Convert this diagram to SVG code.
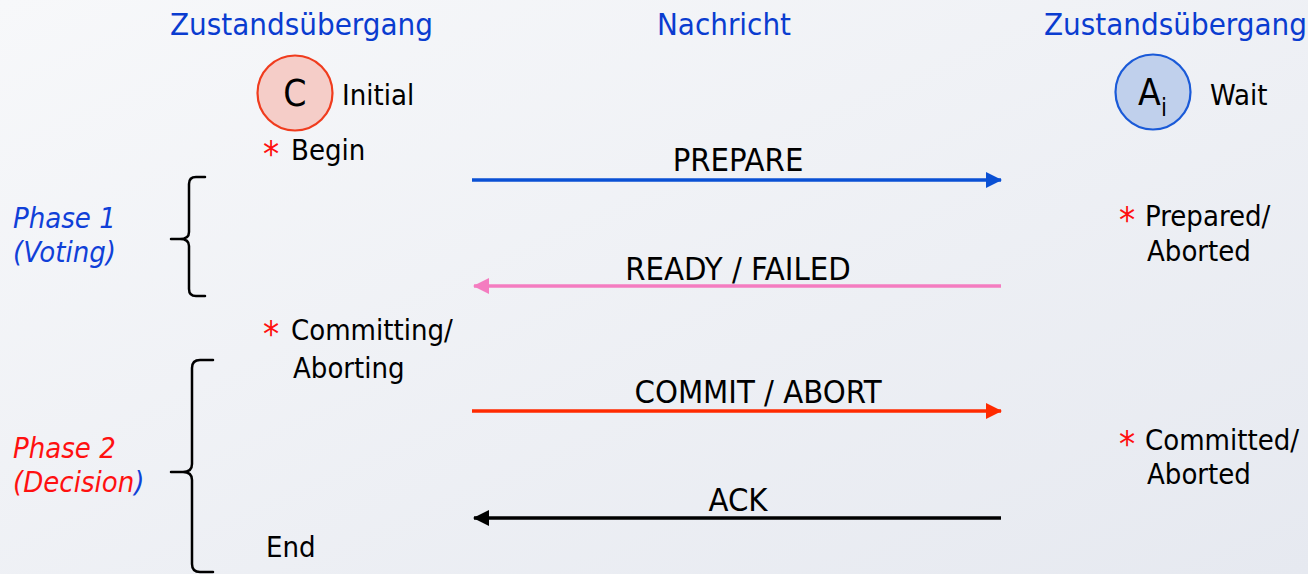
<svg xmlns="http://www.w3.org/2000/svg" width="1308" height="574" viewBox="0 0 1308 574">
  <defs>
    <linearGradient id="bg" x1="0" y1="0" x2="1" y2="1">
      <stop offset="0" stop-color="#f7f8fa"/>
      <stop offset="1" stop-color="#e6e9f0"/>
    </linearGradient>
    <marker id="arrBlue" viewBox="0 0 16 16" refX="15" refY="8" markerWidth="16" markerHeight="16" markerUnits="userSpaceOnUse" orient="auto">
      <path d="M0,0 L16,8 L0,16 Z" fill="#0a50d4"/>
    </marker>
    <marker id="arrPink" viewBox="0 0 16 16" refX="15" refY="8" markerWidth="16" markerHeight="16" markerUnits="userSpaceOnUse" orient="auto">
      <path d="M0,0 L16,8 L0,16 Z" fill="#f47cc0"/>
    </marker>
    <marker id="arrRed" viewBox="0 0 16 16" refX="15" refY="8" markerWidth="16" markerHeight="16" markerUnits="userSpaceOnUse" orient="auto">
      <path d="M0,0 L16,8 L0,16 Z" fill="#ff2a00"/>
    </marker>
    <marker id="arrBlack" viewBox="0 0 16 16" refX="15" refY="8" markerWidth="16" markerHeight="16" markerUnits="userSpaceOnUse" orient="auto">
      <path d="M0,0 L16,8 L0,16 Z" fill="#000"/>
    </marker>
  </defs>
  <style>
    text { font-family: "DejaVu Sans Condensed", "DejaVu Sans", sans-serif; font-stretch: condensed; font-size: 29px; fill: #000; }
    .head { fill: #0a3cd0; font-size: 31px; }
    .phase { font-style: italic; font-size: 29px; }
    .blue { fill: #1040d8; }
    .red { fill: #ff1010; }
    .star { fill: #ff1010; font-size: 36px; }
    .msg { text-anchor: middle; font-size: 32.5px; }
    .brace { fill: none; stroke: #000; stroke-width: 2.5; stroke-linejoin: round; stroke-linecap: round; }
    .arrow { fill: none; stroke-width: 3.5; }
  </style>

  <rect width="1308" height="574" fill="url(#bg)"/>

  <!-- column headings -->
  <g id="headings">
    <text class="head" x="170" y="35">Zustandsübergang</text>
    <text class="head" x="724" y="35" text-anchor="middle">Nachricht</text>
    <text class="head" x="1044" y="35">Zustandsübergang</text>
  </g>

  <!-- coordinator -->
  <g id="coordinator">
    <circle cx="295" cy="93" r="37.5" fill="#f5cdc8" stroke="#f03c1e" stroke-width="2.2"/>
    <text x="295" y="106" text-anchor="middle" style="font-size:37px">C</text>
    <text x="342" y="105">Initial</text>
  </g>

  <!-- participant -->
  <g id="participant">
    <circle cx="1153" cy="92" r="37.5" fill="#c0d0ec" stroke="#1a5ad8" stroke-width="2.2"/>
    <text x="1138" y="105" style="font-size:37px">A</text>
    <text x="1161" y="116" style="font-size:24px">i</text>
    <text x="1210" y="105">Wait</text>
  </g>

  <!-- coordinator states -->
  <g id="coord-begin">
    <text class="star" x="263" y="166">*</text>
    <text x="291" y="160">Begin</text>
  </g>
  <g id="coord-committing">
    <text class="star" x="263" y="346">*</text>
    <text x="291" y="340">Committing/</text>
    <text x="293" y="378">Aborting</text>
  </g>
  <g id="coord-end">
    <text x="266" y="557">End</text>
  </g>

  <!-- participant states -->
  <g id="part-prepared">
    <text class="star" x="1119" y="232">*</text>
    <text x="1145" y="226">Prepared/</text>
    <text x="1147" y="261">Aborted</text>
  </g>
  <g id="part-committed">
    <text class="star" x="1119" y="456">*</text>
    <text x="1145" y="450">Committed/</text>
    <text x="1147" y="484">Aborted</text>
  </g>

  <!-- phase labels with braces -->
  <g id="phase1">
    <text class="phase blue" x="13" y="228">Phase 1</text>
    <text class="phase blue" x="13" y="262">(Voting)</text>
    <path class="brace" d="M205,177 L196,177 Q189,177 189,184 L189,232 Q189,239 180,239 L171,239 L180,239 Q189,239 189,246 L189,289 Q189,296 196,296 L205,296"/>
  </g>
  <g id="phase2">
    <text class="phase red" x="13" y="458">Phase 2</text>
    <text class="phase" x="13" y="492"><tspan class="red">(Decision</tspan><tspan class="blue">)</tspan></text>
    <path class="brace" d="M213,360 L200,360 Q192,360 192,368 L192,464 Q192,472 183,472 L171,472 L183,472 Q192,472 192,480 L192,564 Q192,572 200,572 L213,572"/>
  </g>

  <!-- messages -->
  <g id="connectors">
    <line class="arrow" x1="472" y1="180" x2="1001" y2="180" stroke="#0a50d4" marker-end="url(#arrBlue)"/>
    <line class="arrow" x1="1001" y1="286" x2="474" y2="286" stroke="#f47cc0" marker-end="url(#arrPink)"/>
    <line class="arrow" x1="472" y1="411" x2="1001" y2="411" stroke="#ff2a00" marker-end="url(#arrRed)"/>
    <line class="arrow" x1="1001" y1="518" x2="474" y2="518" stroke="#000" marker-end="url(#arrBlack)"/>
  </g>
  <g id="message-labels">
    <text class="msg" x="738" y="171">PREPARE</text>
    <text class="msg" x="738" y="280">READY / FAILED</text>
    <text class="msg" x="758" y="403">COMMIT / ABORT</text>
    <text class="msg" x="738" y="511">ACK</text>
  </g>
</svg>
